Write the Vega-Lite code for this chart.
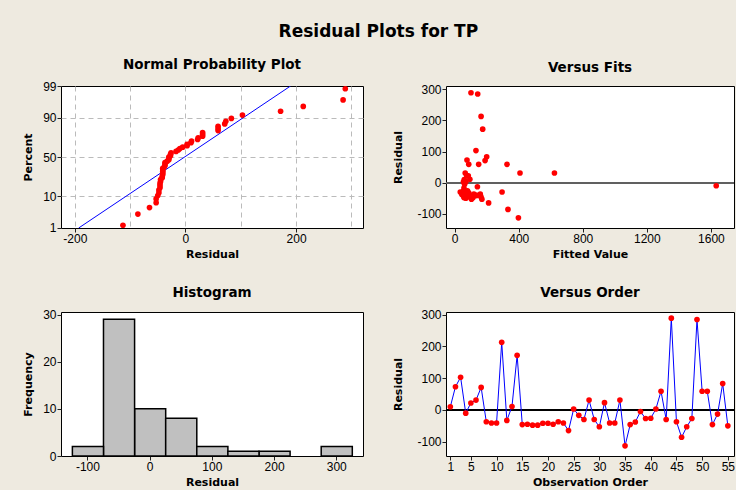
{
  "$schema": "https://vega.github.io/schema/vega-lite/v6.json",
  "background": "#EEEAE0",
  "padding": {"left": 21, "top": 23, "right": 2, "bottom": 2},
  "title": {"text": "Residual Plots for TP", "fontSize": 17, "offset": 16, "anchor": "middle", "frame": "bounds"},
  "datasets": {
    "res": [
      {"obs": 1, "fit": 60, "residual": 10},
      {"obs": 2, "fit": 77, "residual": 73},
      {"obs": 3, "fit": 133, "residual": 103},
      {"obs": 4, "fit": 1633, "residual": -10},
      {"obs": 5, "fit": 85, "residual": 22},
      {"obs": 6, "fit": 623, "residual": 31},
      {"obs": 7, "fit": 190, "residual": 71},
      {"obs": 8, "fit": 52, "residual": -37},
      {"obs": 9, "fit": 110, "residual": -41},
      {"obs": 10, "fit": 75, "residual": -41},
      {"obs": 11, "fit": 165, "residual": 213},
      {"obs": 12, "fit": 88, "residual": -33},
      {"obs": 13, "fit": 95, "residual": 11},
      {"obs": 14, "fit": 175, "residual": 172},
      {"obs": 15, "fit": 165, "residual": -46},
      {"obs": 16, "fit": 60, "residual": -45},
      {"obs": 17, "fit": 115, "residual": -48},
      {"obs": 18, "fit": 58, "residual": -48},
      {"obs": 19, "fit": 100, "residual": -42},
      {"obs": 20, "fit": 68, "residual": -42},
      {"obs": 21, "fit": 90, "residual": -45},
      {"obs": 22, "fit": 160, "residual": -37},
      {"obs": 23, "fit": 130, "residual": -41},
      {"obs": 24, "fit": 212, "residual": -65},
      {"obs": 25, "fit": 70, "residual": 3},
      {"obs": 26, "fit": 58, "residual": -17},
      {"obs": 27, "fit": 35, "residual": -30},
      {"obs": 28, "fit": 66, "residual": 31},
      {"obs": 29, "fit": 50, "residual": -30},
      {"obs": 30, "fit": 170, "residual": -53},
      {"obs": 31, "fit": 75, "residual": 23},
      {"obs": 32, "fit": 82, "residual": -41},
      {"obs": 33, "fit": 140, "residual": -41},
      {"obs": 34, "fit": 408, "residual": 31},
      {"obs": 35, "fit": 398, "residual": -113},
      {"obs": 36, "fit": 72, "residual": -46},
      {"obs": 37, "fit": 45, "residual": -38},
      {"obs": 38, "fit": 62, "residual": -5},
      {"obs": 39, "fit": 65, "residual": -27},
      {"obs": 40, "fit": 80, "residual": -26},
      {"obs": 41, "fit": 55, "residual": 3},
      {"obs": 42, "fit": 88, "residual": 59},
      {"obs": 43, "fit": 296, "residual": -30},
      {"obs": 44, "fit": 102, "residual": 289},
      {"obs": 45, "fit": 120, "residual": -37},
      {"obs": 46, "fit": 333, "residual": -86},
      {"obs": 47, "fit": 105, "residual": -53},
      {"obs": 48, "fit": 55, "residual": -27},
      {"obs": 49, "fit": 144, "residual": 285},
      {"obs": 50, "fit": 150, "residual": 59},
      {"obs": 51, "fit": 327, "residual": 59},
      {"obs": 52, "fit": 62, "residual": -46},
      {"obs": 53, "fit": 142, "residual": -13},
      {"obs": 54, "fit": 200, "residual": 83},
      {"obs": 55, "fit": 70, "residual": -50}
    ],
    "npp": [
      {"r": -113, "z": -2.237}, {"r": -86, "z": -1.871}, {"r": -65, "z": -1.657}, {"r": -53, "z": -1.500},
      {"r": -53, "z": -1.373}, {"r": -50, "z": -1.265}, {"r": -48, "z": -1.170}, {"r": -48, "z": -1.085},
      {"r": -46, "z": -1.007}, {"r": -46, "z": -0.934}, {"r": -46, "z": -0.866}, {"r": -45, "z": -0.802},
      {"r": -45, "z": -0.741}, {"r": -42, "z": -0.683}, {"r": -42, "z": -0.627}, {"r": -41, "z": -0.573},
      {"r": -41, "z": -0.520}, {"r": -41, "z": -0.469}, {"r": -41, "z": -0.419}, {"r": -41, "z": -0.370},
      {"r": -38, "z": -0.322}, {"r": -37, "z": -0.275}, {"r": -37, "z": -0.228}, {"r": -37, "z": -0.182},
      {"r": -33, "z": -0.136}, {"r": -30, "z": -0.091}, {"r": -30, "z": -0.045}, {"r": -30, "z": 0},
      {"r": -27, "z": 0.045}, {"r": -27, "z": 0.091}, {"r": -26, "z": 0.136}, {"r": -17, "z": 0.182},
      {"r": -13, "z": 0.228}, {"r": -10, "z": 0.275}, {"r": -5, "z": 0.322}, {"r": 3, "z": 0.370},
      {"r": 3, "z": 0.419}, {"r": 10, "z": 0.469}, {"r": 11, "z": 0.520}, {"r": 22, "z": 0.573},
      {"r": 23, "z": 0.627}, {"r": 31, "z": 0.683}, {"r": 31, "z": 0.741}, {"r": 31, "z": 0.802},
      {"r": 59, "z": 0.866}, {"r": 59, "z": 0.934}, {"r": 59, "z": 1.007}, {"r": 71, "z": 1.085},
      {"r": 73, "z": 1.170}, {"r": 83, "z": 1.265}, {"r": 103, "z": 1.373}, {"r": 172, "z": 1.500},
      {"r": 213, "z": 1.657}, {"r": 285, "z": 1.871}, {"r": 289, "z": 2.237}
    ],
    "nline": [
      {"r": -193, "z": -2.3263},
      {"r": 190, "z": 2.3263}
    ]
  },
  "columns": 2,
  "align": "each",
  "spacing": {"row": 25, "column": 27},
  "concat": [
    {
      "title": "Normal Probability Plot",
      "width": 302,
      "height": 142,
      "encoding": {
        "x": {
          "field": "r", "type": "quantitative",
          "scale": {"domain": [-225, 321], "nice": false, "zero": false},
          "axis": {
            "title": "Residual",
            "values": [-200, -100, 0, 100, 200, 300],
            "tickCount": 50,
            "grid": true, "gridDash": [5, 4], "gridColor": "#BBBBBB",
            "labelExpr": "datum.value % 200 === 0 ? datum.label : ''",
            "tickOpacity": {"condition": {"test": "datum.value % 200 === 0", "value": 1}, "value": 0}
          }
        },
        "y": {
          "field": "z", "type": "quantitative",
          "scale": {"domain": [-2.3264, 2.3264], "nice": false, "zero": false},
          "axis": {
            "title": "Percent",
            "values": [-2.3263, -1.2816, 0, 1.2816, 2.3263],
            "tickCount": 50,
            "labelExpr": "datum.value < -2 ? '1' : datum.value < -1 ? '10' : datum.value < 1 ? '50' : datum.value < 2 ? '90' : '99'",
            "grid": true, "gridDash": [5, 4], "gridColor": "#BBBBBB",
            "gridOpacity": {"condition": {"test": "abs(datum.value) > 2", "value": 0}, "value": 1},
            "minExtent": 24, "maxExtent": 24, "titlePadding": 4
          }
        }
      },
      "layer": [
        {
          "data": {"name": "nline"},
          "mark": {"type": "line", "color": "#0000FF", "strokeWidth": 1, "clip": true}
        },
        {
          "data": {"name": "npp"},
          "mark": {"type": "circle", "color": "#FF0000", "size": 32, "opacity": 1}
        }
      ]
    },
    {
      "title": "Versus Fits",
      "width": 288,
      "height": 142,
      "data": {"name": "res"},
      "layer": [
        {
          "mark": {"type": "rule", "color": "#606060", "strokeWidth": 1.5},
          "encoding": {
            "y": {
              "datum": 0, "type": "quantitative",
              "scale": {"domain": [-145.6, 310.6], "nice": false, "zero": false},
              "axis": {"title": "Residual", "values": [-100, 0, 100, 200, 300], "tickCount": 50, "minExtent": 36, "maxExtent": 36, "titlePadding": 7}
            }
          }
        },
        {
          "mark": {"type": "circle", "color": "#FF0000", "size": 32, "opacity": 1},
          "encoding": {
            "x": {
              "field": "fit", "type": "quantitative",
              "scale": {"domain": [-54, 1744], "nice": false, "zero": false},
              "axis": {"title": "Fitted Value", "values": [0, 400, 800, 1200, 1600], "tickCount": 50}
            },
            "y": {
              "field": "residual", "type": "quantitative",
              "scale": {"domain": [-145.6, 310.6], "nice": false, "zero": false},
              "axis": {"title": "Residual", "values": [-100, 0, 100, 200, 300], "tickCount": 50, "minExtent": 36, "maxExtent": 36, "titlePadding": 7}
            }
          }
        }
      ]
    },
    {
      "title": "Histogram",
      "width": 302,
      "height": 144,
      "data": {"name": "res"},
      "mark": {"type": "bar", "fill": "#C0C0C0", "stroke": "black", "strokeWidth": 1.5, "binSpacing": 0},
      "encoding": {
        "x": {
          "field": "residual", "type": "quantitative",
          "bin": {"extent": [-125, 325], "step": 50, "nice": false},
          "scale": {"domain": [-142.5, 343], "nice": false, "zero": false},
          "axis": {"title": "Residual", "values": [-100, 0, 100, 200, 300], "tickCount": 50, "format": "d"}
        },
        "y": {
          "aggregate": "count", "type": "quantitative",
          "scale": {"domain": [0, 30.55], "nice": false},
          "axis": {"title": "Frequency", "values": [0, 10, 20, 30], "tickCount": 50, "format": "d", "minExtent": 24, "maxExtent": 24, "titlePadding": 4}
        }
      }
    },
    {
      "title": "Versus Order",
      "width": 288,
      "height": 144,
      "data": {"name": "res"},
      "layer": [
        {
          "mark": {"type": "rule", "color": "black", "strokeWidth": 1},
          "encoding": {
            "y": {
              "datum": 0, "type": "quantitative",
              "scale": {"domain": [-145, 308.5], "nice": false, "zero": false},
              "axis": {"title": "Residual", "values": [-100, 0, 100, 200, 300], "tickCount": 50, "minExtent": 36, "maxExtent": 36, "titlePadding": 7}
            }
          }
        },
        {
          "mark": {"type": "line", "color": "#0000FF", "strokeWidth": 1},
          "encoding": {
            "x": {
              "field": "obs", "type": "quantitative",
              "scale": {"domain": [0.16, 56.2], "nice": false, "zero": false},
              "axis": {"title": "Observation Order", "values": [1, 5, 10, 15, 20, 25, 30, 35, 40, 45, 50, 55], "tickCount": 50}
            },
            "y": {
              "field": "residual", "type": "quantitative",
              "scale": {"domain": [-145, 308.5], "nice": false, "zero": false},
              "axis": {"title": "Residual", "values": [-100, 0, 100, 200, 300], "tickCount": 50, "minExtent": 36, "maxExtent": 36, "titlePadding": 7}
            }
          }
        },
        {
          "mark": {"type": "circle", "color": "#FF0000", "size": 32, "opacity": 1},
          "encoding": {
            "x": {"field": "obs", "type": "quantitative"},
            "y": {"field": "residual", "type": "quantitative"}
          }
        }
      ]
    }
  ],
  "config": {
    "locale": {"number": {"decimal": ".", "thousands": "", "grouping": [3], "currency": ["", ""], "minus": "-"}},
    "view": {"stroke": "black", "strokeWidth": 1, "fill": "white"},
    "axis": {
      "domain": false,
      "grid": false,
      "tickColor": "#222222",
      "tickSize": 4,
      "labelFont": "Liberation Sans",
      "labelFontSize": 12,
      "labelColor": "black",
      "labelPadding": 1,
      "labelFlush": false,
      "labelOverlap": false,
      "titleFont": "DejaVu Sans",
      "titleFontSize": 11,
      "titleFontWeight": "bold",
      "titleColor": "black",
      "titlePadding": 4
    },
    "title": {
      "font": "DejaVu Sans",
      "fontSize": 13.5,
      "fontWeight": "bold",
      "color": "black",
      "anchor": "middle",
      "frame": "group",
      "offset": 9
    }
  }
}
